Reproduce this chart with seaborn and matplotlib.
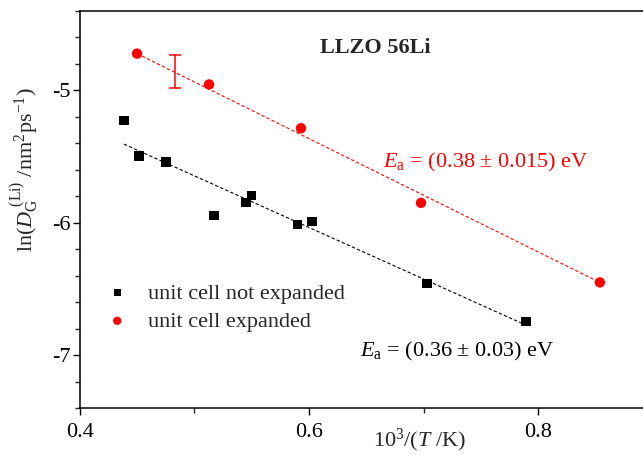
import numpy as np
import pandas as pd
import matplotlib
matplotlib.use("Agg")
import matplotlib.pyplot as plt
from matplotlib.ticker import MultipleLocator, FixedLocator, FormatStrFormatter
import seaborn as sns

# ---- data ----
x_not = [0.4384, 0.4515, 0.4751, 0.5170, 0.5450, 0.5500, 0.5900, 0.6026, 0.7030, 0.7895]
y_not = [-5.226, -5.496, -5.541, -5.947, -5.850, -5.797, -6.015, -5.992, -6.459, -6.744]
x_exp = [0.4498, 0.5127, 0.5930, 0.6978, 0.8540]
y_exp = [-4.722, -4.955, -5.286, -5.850, -6.451]
fit_not_x = [0.4384, 0.7895]
fit_not_y = [-5.406, -6.774]
fit_exp_x = [0.4498, 0.8540]
fit_exp_y = [-4.722, -6.451]
err_x = [0.483]
err_y = [-4.857]
err_half = [0.128]
x_ticks = [0.4, 0.6, 0.8]
y_ticks = [-7, -6, -5]
label_not = "unit cell not expanded"
label_exp = "unit cell expanded"

sns.set_style("ticks")
plt.rcParams["font.family"] = ["Liberation Serif", "DejaVu Serif"]
plt.rcParams["mathtext.fontset"] = "custom"
plt.rcParams["mathtext.rm"] = "Liberation Serif"
plt.rcParams["mathtext.it"] = "Liberation Serif:italic"
plt.rcParams["mathtext.bf"] = "Liberation Serif:bold"
plt.rcParams["axes.unicode_minus"] = False

RED = "#ff0000"
FS = 16

fig = plt.figure(figsize=(6.43, 4.55), dpi=100)
ax = fig.add_axes([80/643, 47/455, 687/643, 397/455])

df_not = pd.DataFrame({"x": x_not, "y": y_not})
df_exp = pd.DataFrame({"x": x_exp, "y": y_exp})
df_fn = pd.DataFrame({"x": fit_not_x, "y": fit_not_y})
df_fe = pd.DataFrame({"x": fit_exp_x, "y": fit_exp_y})

sns.lineplot(data=df_fn, x="x", y="y", ax=ax, color="black", lw=0.8,
             linestyle=(0, (3, 2)), zorder=2)
sns.lineplot(data=df_fe, x="x", y="y", ax=ax, color=RED, lw=0.8,
             linestyle=(0, (3, 2)), zorder=2)
sns.scatterplot(data=df_not, x="x", y="y", ax=ax, marker="s", color="black",
                s=44, edgecolor="none", label=label_not, zorder=3)
sns.scatterplot(data=df_exp, x="x", y="y", ax=ax, marker="o", color=RED,
                s=56, edgecolor="none", label=label_exp, zorder=3)
ax.errorbar(err_x, err_y, yerr=err_half, fmt="none", ecolor=RED,
            elinewidth=1.1, capsize=4.5, capthick=1.1)

ax.set_xlim(0.4, 1.0)
ax.set_ylim(-7.4, -4.4)
ax.xaxis.set_major_locator(FixedLocator(x_ticks))
ax.xaxis.set_minor_locator(MultipleLocator(0.1))
ax.yaxis.set_major_locator(FixedLocator(y_ticks))
ax.yaxis.set_minor_locator(MultipleLocator(0.2))
ax.xaxis.set_major_formatter(FormatStrFormatter("%.1f"))
ax.yaxis.set_major_formatter(FormatStrFormatter("%d"))

for s in ax.spines.values():
    s.set_linewidth(1.1)
    s.set_color("black")
ax.tick_params(which="major", direction="out", length=5, width=1.0,
               labelsize=FS, colors="black")
ax.tick_params(which="minor", direction="out", length=3.5, width=1.0)
ax.tick_params(axis="x", which="major", pad=6)
ax.tick_params(axis="y", which="major", pad=1.5)
ax.tick_params(top=False, right=False, which="both")

ax.set_xlabel(r"$10^3/(T\ /\mathrm{K})$", fontsize=FS)
ax.xaxis.set_label_coords(0.4934, -0.047)
ax.set_ylabel(r"$\mathrm{ln}(D_{\mathrm{G}}^{\ (\mathrm{Li})}\ /\mathrm{nm}^2\mathrm{ps}^{-1})$",
              fontsize=FS)
ax.yaxis.set_label_coords(-0.056, 0.60)

leg = ax.legend(loc="upper left", bbox_to_anchor=(0.038, 0.315), frameon=False,
                fontsize=FS, handlelength=1.0, handletextpad=0.88,
                labelspacing=0.34, borderpad=0, borderaxespad=0, markerscale=0.8)

ax.text(0.6096, -4.714, "LLZO 56Li", fontsize=FS, fontweight="bold",
        ha="left", va="baseline")
ax.text(0.6646, -5.586, r"$E_{\mathrm{a}}$ = (0.38 ± 0.015) eV", fontsize=FS,
        color=RED, ha="left", va="baseline")
ax.text(0.6445, -7.008, r"$E_{\mathrm{a}}$ = (0.36 ± 0.03) eV", fontsize=FS,
        color="black", ha="left", va="baseline")

fig.savefig("out.png", dpi=100)
